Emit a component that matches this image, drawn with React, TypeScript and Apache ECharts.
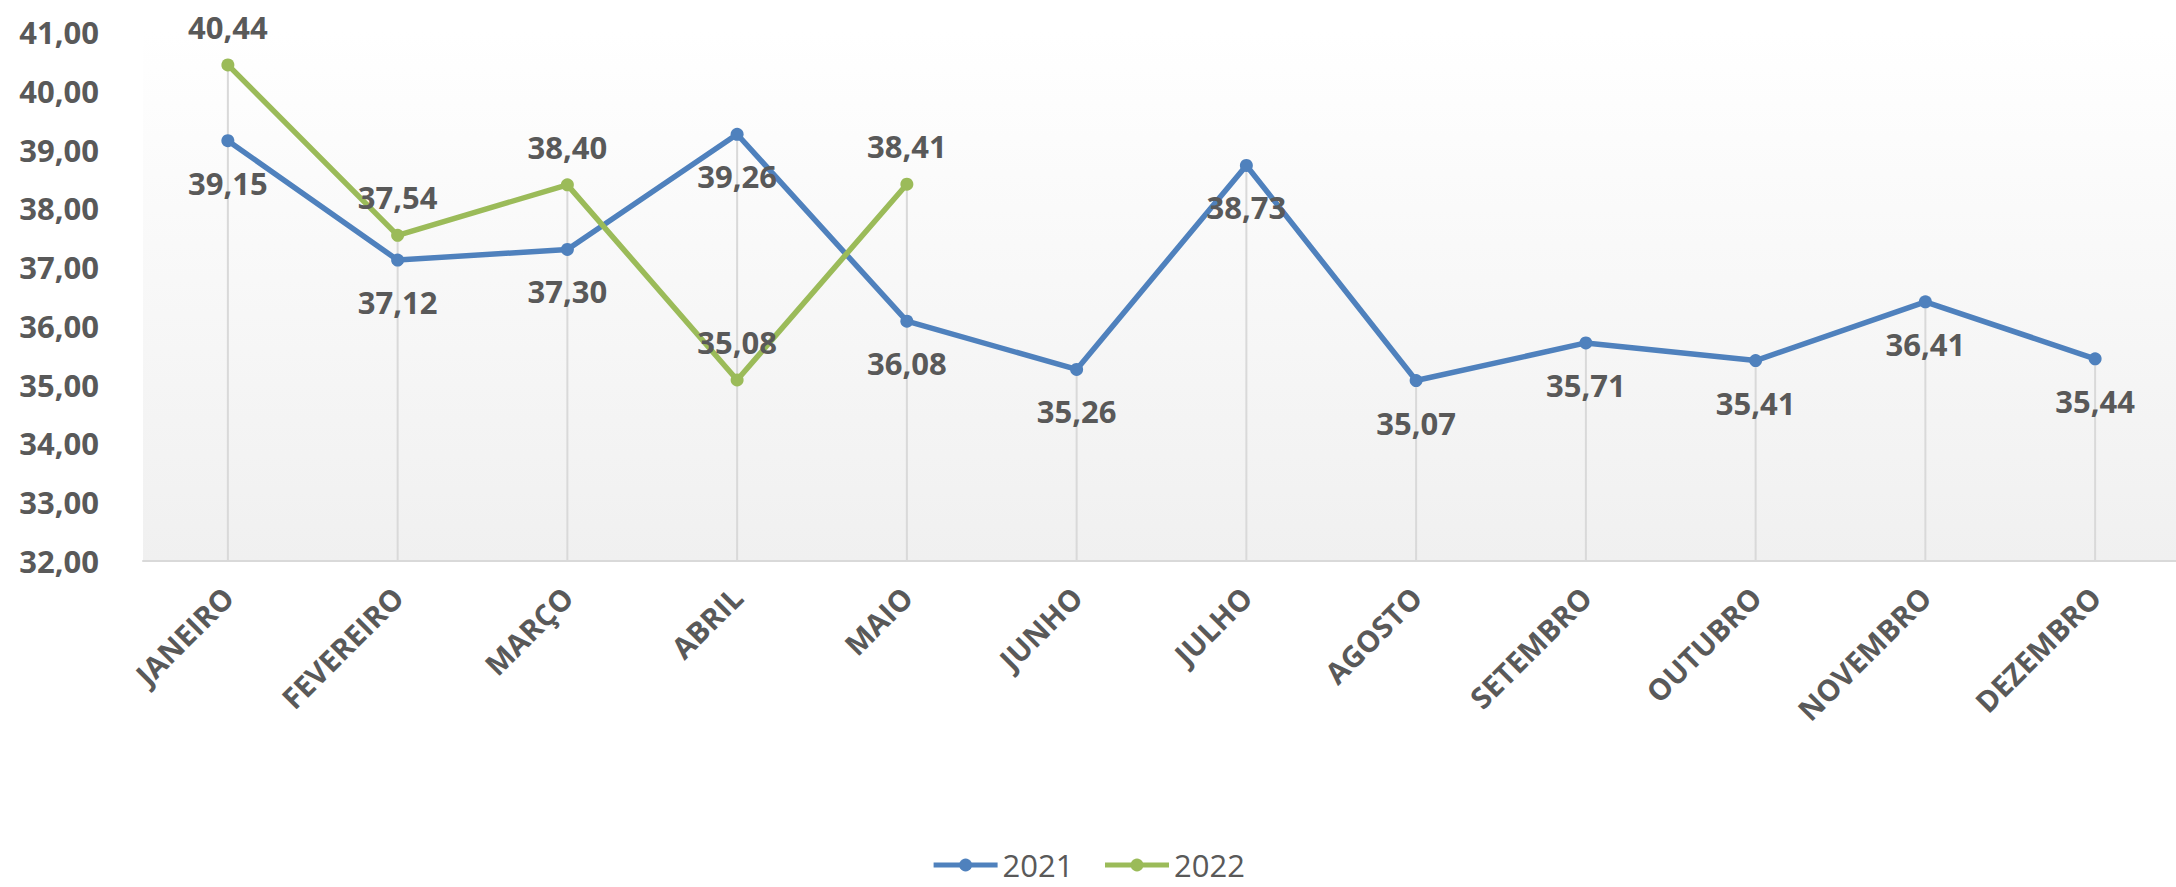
import React, { useEffect, useRef } from 'react';
import * as echarts from 'echarts';

const months = ['JANEIRO', 'FEVEREIRO', 'MARÇO', 'ABRIL', 'MAIO', 'JUNHO', 'JULHO', 'AGOSTO', 'SETEMBRO', 'OUTUBRO', 'NOVEMBRO', 'DEZEMBRO'];
const values2021 = [39.15, 37.12, 37.30, 39.26, 36.08, 35.26, 38.73, 35.07, 35.71, 35.41, 36.41, 35.44];
const values2022 = [40.44, 37.54, 38.40, 35.08, 38.41];
const yMin = 32;
const yMax = 41;
const yInterval = 1;

const FONT = '"Open Sans", Lato, sans-serif';
const TEXT = '#595959';
const BLUE = '#4f81bd';
const GREEN = '#9bbb59';

const fmt = (v: number) => v.toFixed(2).replace('.', ',');

export default function App() {
  const ref = useRef<HTMLDivElement>(null);
  useEffect(() => {
    document.body.style.margin = '0';
    const chart = echarts.init(ref.current!, null, { renderer: 'svg' });
    const dropData = months.map((_, i) => {
      const vals = [values2021[i], values2022[i]].filter((v) => v !== undefined) as number[];
      return [i, Math.max(...vals)];
    });
    chart.setOption({
      animation: false,
      backgroundColor: '#ffffff',
      textStyle: { fontFamily: FONT },
      grid: {
        left: 143,
        top: 32,
        width: 2037,
        height: 529,
        containLabel: false,
        outerBoundsMode: 'none',
        show: true,
        borderWidth: 0,
        backgroundColor: new echarts.graphic.LinearGradient(0, 0, 0, 1, [
          { offset: 0, color: '#ffffff' },
          { offset: 1, color: '#f0f0f0' },
        ]),
      },
      legend: {
        data: ['2021', '2022'],
        top: 848,
        left: 'center',
        padding: 0,
        itemWidth: 64,
        itemHeight: 16,
        itemGap: 29,
        lineStyle: { width: 5 },
        textStyle: { fontFamily: FONT, fontSize: 31, lineHeight: 34, color: TEXT },
      },
      xAxis: {
        type: 'category',
        data: months,
        boundaryGap: true,
        axisLine: { show: true, lineStyle: { color: '#d9d9d9', width: 2 } },
        axisTick: { show: false },
        splitLine: { show: false },
        axisLabel: {
          interval: 0,
          rotate: 45,
          margin: 31,
          fontFamily: FONT,
          fontSize: 29.5,
          fontWeight: 'bold',
          color: TEXT,
        },
      },
      yAxis: {
        type: 'value',
        min: yMin,
        max: yMax,
        interval: yInterval,
        axisLine: { show: false },
        axisTick: { show: false },
        splitLine: { show: false },
        axisLabel: {
          margin: 44,
          fontFamily: FONT,
          fontSize: 31,
          fontWeight: 'bold',
          color: TEXT,
          formatter: (v: number) => fmt(v),
        },
      },
      series: [
        {
          type: 'custom',
          name: 'drop',
          data: dropData,
          z: 1,
          silent: true,
          renderItem: (params: any, api: any) => {
            const top = api.coord([api.value(0), api.value(1)]);
            const bottom = api.coord([api.value(0), yMin]);
            return {
              type: 'line',
              shape: { x1: top[0], y1: top[1], x2: bottom[0], y2: bottom[1] },
              style: { stroke: '#d9d9d9', lineWidth: 2 },
            };
          },
        },
        {
          type: 'line',
          name: '2021',
          data: values2021,
          z: 3,
          symbol: 'circle',
          symbolSize: 13,
          lineStyle: { color: BLUE, width: 5.5 },
          itemStyle: { color: BLUE },
          label: {
            show: true,
            position: 'bottom',
            distance: 20,
            fontFamily: FONT,
            fontSize: 31,
            fontWeight: 'bold',
            color: TEXT,
            formatter: (p: any) => fmt(p.value),
          },
        },
        {
          type: 'line',
          name: '2022',
          data: values2022,
          z: 4,
          symbol: 'circle',
          symbolSize: 13,
          lineStyle: { color: GREEN, width: 5.5 },
          itemStyle: { color: GREEN },
          label: {
            show: true,
            position: 'top',
            distance: 16,
            fontFamily: FONT,
            fontSize: 31,
            fontWeight: 'bold',
            color: TEXT,
            formatter: (p: any) => fmt(p.value),
          },
        },
      ],
    });
    return () => chart.dispose();
  }, []);
  return <div ref={ref} style={{ width: 2176, height: 887 }} />;
}
